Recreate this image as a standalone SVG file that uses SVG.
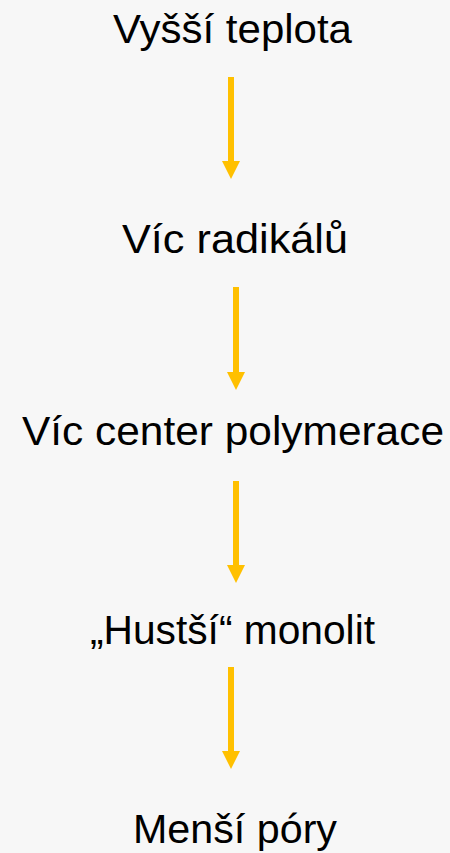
<svg xmlns="http://www.w3.org/2000/svg" width="450" height="853" viewBox="0 0 450 853">
<style>
.t{font-family:"Liberation Sans","DejaVu Sans",sans-serif;font-size:41px;fill:#000}
.s{stroke:#FFC000;stroke-width:6;fill:none}
.h{fill:#FFC000}
</style>
<rect width="450" height="853" fill="#f7f7f7"/>
<g id="n1"><text class="t" x="113" y="43" textLength="239" lengthAdjust="spacingAndGlyphs">Vyšší teplota</text></g>
<g id="n2"><text class="t" x="122" y="253" textLength="226" lengthAdjust="spacingAndGlyphs">Víc radikálů</text></g>
<g id="n3"><text class="t" x="22" y="445" textLength="422" lengthAdjust="spacingAndGlyphs">Víc center polymerace</text></g>
<g id="n4"><text class="t" x="90" y="644" textLength="285" lengthAdjust="spacingAndGlyphs">„Hustší“ monolit</text></g>
<g id="n5"><text class="t" x="133" y="843" textLength="204" lengthAdjust="spacingAndGlyphs">Menší póry</text></g>
<g id="connectors">
<line class="s" x1="231" y1="77" x2="231" y2="162"/>
<polygon class="h" points="222,161 240,161 231,179"/>
<line class="s" x1="236" y1="287" x2="236" y2="373"/>
<polygon class="h" points="227,372 245,372 236,390"/>
<line class="s" x1="236" y1="481" x2="236" y2="566"/>
<polygon class="h" points="227,565 245,565 236,583"/>
<line class="s" x1="231" y1="667" x2="231" y2="752"/>
<polygon class="h" points="222,751 240,751 231,769"/>
</g>
</svg>
